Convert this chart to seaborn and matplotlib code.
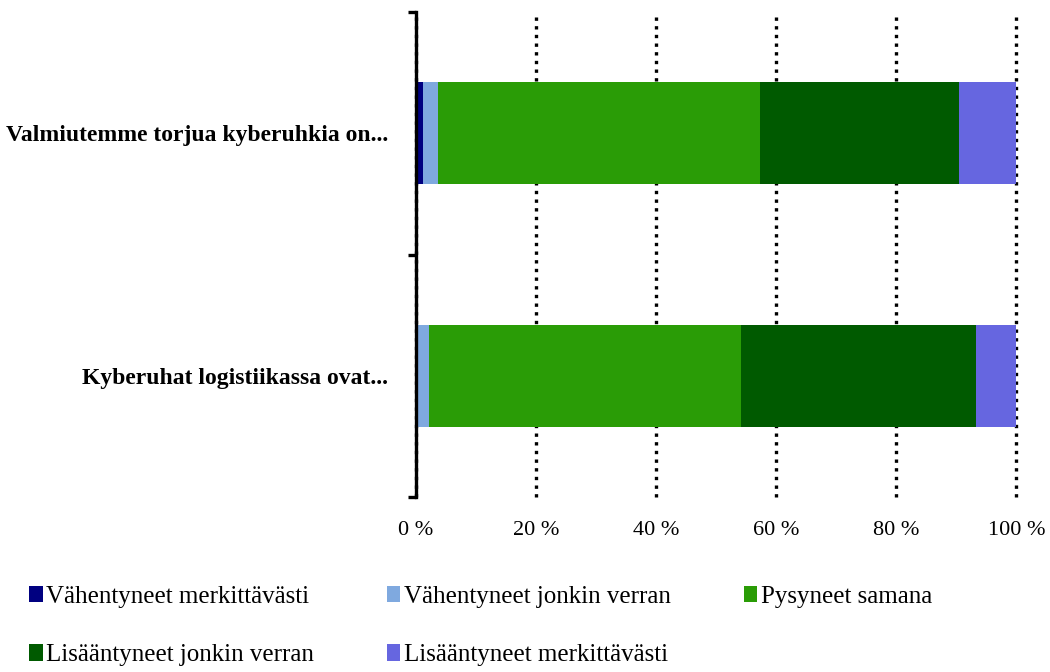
import numpy as np
import pandas as pd
import matplotlib
matplotlib.use('Agg')
import matplotlib.pyplot as plt
from matplotlib.patches import Patch
import seaborn as sns

# kysymykset (ylhäältä alas)
questions = ['Valmiutemme torjua kyberuhkia on...', 'Kyberuhat logistiikassa ovat...']
answers = ['Vähentyneet merkittävästi', 'Vähentyneet jonkin verran', 'Pysyneet samana',
           'Lisääntyneet jonkin verran', 'Lisääntyneet merkittävästi']
colors = ['#000080', '#7FA9DF', '#2A9C06', '#005A00', '#6666E0']

# osuudet % (luettu kuvasta)
share_valmius = [1.2, 2.5, 53.6, 33.2, 9.5]
share_uhat = [0.4, 1.8, 52.0, 39.0, 6.8]

df = pd.DataFrame([share_valmius, share_uhat], columns=answers)
cum = df[answers].cumsum(axis=1)
cum['kysymys'] = questions

sns.set_style('white')
plt.rcParams['font.family'] = ['Liberation Serif', 'DejaVu Serif']
plt.rcParams['text.color'] = 'black'
plt.rcParams['xtick.color'] = 'black'
plt.rcParams['ytick.color'] = 'black'

fig, ax = plt.subplots(figsize=(10.5, 6.72), dpi=100)
fig.subplots_adjust(left=0.396, right=0.968, top=0.982, bottom=0.26)

# piirretään kumulatiiviset summat suurimmasta pienimpään, päällekkäin
for ans, col in reversed(list(zip(answers, colors))):
    sns.barplot(data=cum, x=ans, y='kysymys', order=questions, color=col,
                width=0.42, saturation=1, linewidth=0, ax=ax, zorder=3)

ax.set_xlim(0, 100)
ax.set_ylim(1.5, -0.5)
ax.set_xticks([0, 20, 40, 60, 80, 100])
ax.set_xticklabels(['0 %', '20 %', '40 %', '60 %', '80 %', '100 %'], fontsize=16)
ax.set_xlabel('')
ax.set_ylabel('')
ax.tick_params(axis='x', length=0, pad=17)
ax.tick_params(axis='y', which='major', length=0, pad=20)
for lab in ax.get_yticklabels():
    lab.set_fontweight('bold')
    lab.set_fontsize(17)

ax.set_yticks([-0.5, 0.5, 1.5], minor=True)
ax.tick_params(axis='y', which='minor', left=True, length=6, width=2.4,
               color='black', direction='out')

ax.xaxis.grid(True, linestyle=(0, (1, 1.6)), linewidth=2.4, color='black')
for gl in ax.get_xgridlines():
    gl.set_clip_on(False)
ax.yaxis.grid(False)
for side in ['top', 'right', 'bottom']:
    ax.spines[side].set_visible(False)
ax.spines['left'].set_color('black')
ax.spines['left'].set_linewidth(2.4)
ax.spines['left'].set_zorder(5)

handles = [Patch(facecolor=c, edgecolor='none') for c in colors]
order = [0, 3, 1, 4, 2]
fig.legend([handles[i] for i in order], [answers[i] for i in order],
           loc='lower left', bbox_to_anchor=(0.006, -0.025), ncol=3, frameon=False,
           fontsize=18, handlelength=0.55, handleheight=0.65, handletextpad=0.15,
           columnspacing=2.9, labelspacing=1.45)

fig.savefig('out.png', dpi=100)
